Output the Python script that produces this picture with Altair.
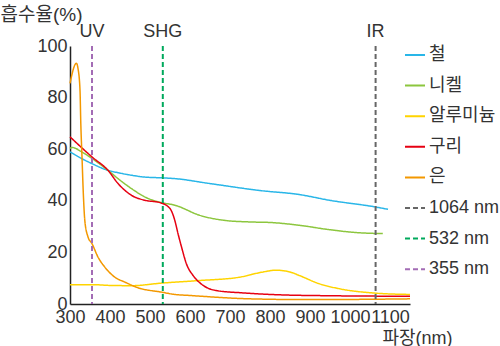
import altair as alt
import pandas as pd

FONT = "Liberation Sans, Noto Sans CJK KR, sans-serif"

series_names = ["철", "니켈", "알루미늄", "구리", "은", "1064 nm", "532 nm", "355 nm"]
series_colors = ["#29b6e8", "#8cc63e", "#ffd400", "#e60012", "#f39800", "#666666", "#00a95c", "#a36cb5"]

iron_wl = [300, 329, 355, 395, 420, 454, 487, 529, 562, 649, 774, 874, 949, 1064, 1095]
iron_val = [59, 56.4, 54.4, 51.8, 50.9, 49.9, 49.2, 48.9, 48.6, 46.7, 44, 42.4, 40.2, 37.6, 36.7]

nickel_wl = [300, 305, 329, 355, 395, 420, 454, 487, 529, 562, 624, 687, 750, 800, 874, 949, 1024, 1082]
nickel_val = [60.3, 60.7, 59, 56.4, 51.8, 48.6, 44.7, 41.5, 39.3, 38.3, 34.4, 32.4, 31.8, 31.6, 30.5, 28.8, 27.6, 27.3]

alu_wl = [300, 355, 400, 454, 529, 624, 724, 779, 815, 850, 874, 924, 974, 1064, 1150]
alu_val = [7.5, 7.5, 7.2, 7.1, 8.1, 9.1, 10.4, 12.3, 13.1, 12.4, 11, 7.8, 5.9, 4.2, 3.7]

copper_wl = [300, 355, 395, 420, 454, 487, 525, 550, 562, 570, 579, 591, 608, 633, 666, 733, 816, 950, 1150]
copper_val = [64.8, 57, 51.8, 46.7, 42.1, 40.2, 39.3, 37, 32.4, 27.3, 22, 15.6, 11, 7.2, 5.2, 4.3, 3.6, 3.2, 3.0]

silver_wl = [300, 316, 320, 325, 327, 330, 333, 337, 345, 355, 370, 387, 412, 437, 470, 529, 562, 600, 750, 900, 1150]
silver_val = [85.5, 93.3, 91.3, 82.9, 70, 57, 44, 32.4, 26, 23.4, 18.2, 14.3, 10.4, 8.5, 6.3, 4.6, 3.7, 3.3, 2.0, 1.7, 2.0]

laser_wl = [1064, 532, 355]
laser_names = ["1064 nm", "532 nm", "355 nm"]
band_labels = ["IR", "SHG", "UV"]

x_ticks = [300, 400, 500, 600, 700, 800, 900, 1000, 1100]
y_ticks = [0, 20, 40, 60, 80, 100]

rows = []
for name, wl, val in [("철", iron_wl, iron_val), ("니켈", nickel_wl, nickel_val),
                      ("알루미늄", alu_wl, alu_val), ("구리", copper_wl, copper_val),
                      ("은", silver_wl, silver_val)]:
    for w, v in zip(wl, val):
        rows.append({"wl": w, "val": v, "series": name})
curves = pd.DataFrame(rows)
lasers = pd.DataFrame({"wl": laser_wl, "series": laser_names, "band": band_labels})

dash_range = [[1, 0]] * 5 + [[5, 3]] * 3

xscale = alt.Scale(domain=[300, 1150], nice=False, zero=False)
yscale = alt.Scale(domain=[0, 100], nice=False)
cscale = alt.Scale(domain=series_names, range=series_colors)
dscale = alt.Scale(domain=series_names, range=dash_range)

legend = alt.Legend(
    title=None, orient="none", legendX=334, legendY=-2,
    symbolType="stroke", symbolSize=400, symbolStrokeWidth=2,
    labelFontSize=18, labelFont=FONT, labelColor="#333",
    rowPadding=10.6, labelOffset=3, symbolOffset=0,
)

xaxis = alt.Axis(values=x_ticks, format="d", labelFontSize=18, labelFont=FONT, labelColor="#333",
                 ticks=False, labelPadding=4, grid=False,
                 title="파장(nm)", titleFont=FONT, titleFontSize=18, titleFontWeight="normal",
                 titleColor="#333", titleAnchor="start", titleX=312, titleY=39,
                 titleAlign="left", titleBaseline="alphabetic",
                 domainColor="#222", domainWidth=1.5, labelFlush=False, labelOverlap=False)
yaxis = alt.Axis(values=y_ticks, labelFontSize=18, labelFont=FONT, labelColor="#333",
                 ticks=False, labelPadding=3, grid=False,
                 title="흡수율(%)", titleFont=FONT, titleFontSize=19, titleFontWeight="normal",
                 titleColor="#333", titleAngle=0, titleX=-70, titleY=-26,
                 titleAlign="left", titleBaseline="alphabetic",
                 domainColor="#222", domainWidth=1.5, labelBaseline="middle")

lines = alt.Chart(curves).mark_line(interpolate="monotone", strokeWidth=1.5).encode(
    x=alt.X("wl:Q", scale=xscale, axis=xaxis),
    y=alt.Y("val:Q", scale=yscale, axis=yaxis),
    color=alt.Color("series:N", scale=cscale, legend=legend),
    strokeDash=alt.StrokeDash("series:N", scale=dscale, legend=legend),
    detail="series:N",
)

rules = alt.Chart(lasers).mark_rule(strokeWidth=2).encode(
    x=alt.X("wl:Q", scale=xscale),
    color=alt.Color("series:N", scale=cscale, legend=legend),
    strokeDash=alt.StrokeDash("series:N", scale=dscale, legend=legend),
)

texts = alt.Chart(lasers).mark_text(fontSize=18, font=FONT, color="#333", baseline="alphabetic", align="center").encode(
    x=alt.X("wl:Q", scale=xscale),
    y=alt.value(-9),
    text="band:N",
)

chart = alt.layer(lines, rules, texts).properties(
    width=340, height=258,
    autosize=alt.AutoSizeParams(type="none"),
    padding={"left": 70, "top": 46, "right": 90, "bottom": 42},
).configure(background="white").configure_view(stroke=None)

chart.save("out.html", embed_options={"renderer": "svg", "actions": False})
